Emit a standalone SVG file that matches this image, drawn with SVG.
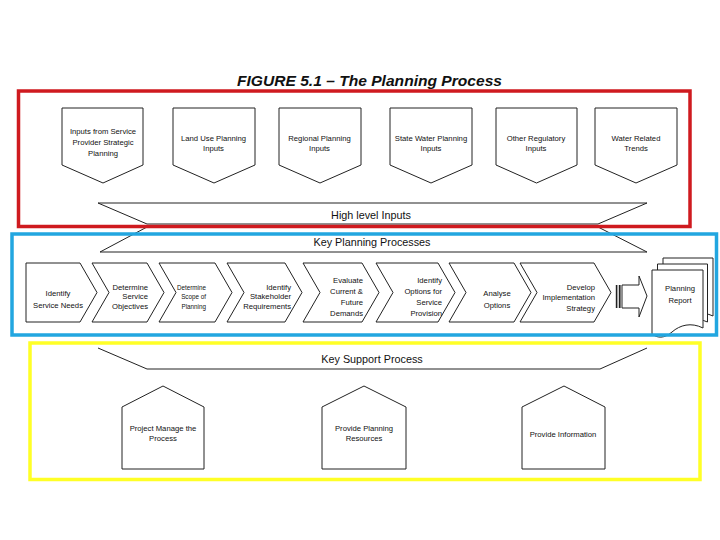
<svg xmlns="http://www.w3.org/2000/svg" width="720" height="540" viewBox="0 0 720 540">
<defs>
<style>
.sh{fill:#fff;stroke:#222;stroke-width:1;stroke-linejoin:miter}
.ln{fill:none;stroke:#222;stroke-width:1}
.t{font-family:"Liberation Sans",Arial,sans-serif;font-size:7.7px;fill:#111}
.s{font-size:6.3px}
.c{text-anchor:middle}
.e{text-anchor:end}
.b{font-family:"Liberation Sans",Arial,sans-serif;font-size:10.8px;fill:#111;text-anchor:middle}
.title{font-family:"Liberation Sans",Arial,sans-serif;font-size:15.5px;font-weight:bold;font-style:italic;fill:#111}
.frame{fill:none;stroke-width:3.5}
</style>
</defs>
<rect width="720" height="540" fill="#fff"/>
<text class="title" x="237" y="86" textLength="265" lengthAdjust="spacingAndGlyphs">FIGURE 5.1 – The Planning Process</text>

<g id="connectors">
<g id="banner-high-level">
<path class="sh" d="M98,203 H647 L598,224 H147 Z"/>
<text class="b" x="371" y="219">High level Inputs</text>
</g>
<g id="banner-key-planning">
<path class="sh" d="M147,227 H598 L647,252 H100 Z"/>
<text class="b" x="372" y="245.5">Key Planning Processes</text>
</g>
<g id="banner-key-support">
<path fill="#fff" stroke="none" d="M98,348 H647 L600,369 H147 Z"/>
<path class="ln" d="M98,348 L147,369 H600 L647,348"/>
<text class="b" x="372" y="362.5">Key Support Process</text>
</g>
<g id="arrow-to-report">
<rect x="615.8" y="285" width="1.6" height="23" fill="#222"/>
<rect x="618.8" y="285" width="1.8" height="23" fill="#222"/>
<path class="sh" d="M622,285 H639 V276 L647,296 L639,317 V308 H622 Z"/>
</g>
</g>

<g id="input-service-provider">
<path class="sh" d="M62,108 H143 V165 L103,183 L62,165 Z"/>
<text class="t c" x="103" y="133.8">Inputs from Service</text>
<text class="t c" x="103" y="144.8">Provider Strategic</text>
<text class="t c" x="103" y="155.5">Planning</text>
</g>
<g id="input-land-use">
<path class="sh" d="M173,108 H255 V165 L214,183 L173,165 Z"/>
<text class="t c" x="213.5" y="140.5">Land Use Planning</text>
<text class="t c" x="213.5" y="151">Inputs</text>
</g>
<g id="input-regional">
<path class="sh" d="M279,108 H361 V165 L320,183 L279,165 Z"/>
<text class="t c" x="319.5" y="140.5">Regional Planning</text>
<text class="t c" x="319.5" y="151">Inputs</text>
</g>
<g id="input-state-water">
<path class="sh" d="M390,108 H472 V165 L431,183 L390,165 Z"/>
<text class="t c" x="431" y="140.5">State Water Planning</text>
<text class="t c" x="431" y="151">Inputs</text>
</g>
<g id="input-other-regulatory">
<path class="sh" d="M496,108 H577 V165 L536.5,183 L496,165 Z"/>
<text class="t c" x="536" y="140.5">Other Regulatory</text>
<text class="t c" x="536" y="151">Inputs</text>
</g>
<g id="input-water-trends">
<path class="sh" d="M595,108 H677 V165 L636,183 L595,165 Z"/>
<text class="t c" x="636" y="140.5">Water Related</text>
<text class="t c" x="636" y="151">Trends</text>
</g>

<g id="step-identify-needs">
<path class="sh" d="M26,263 H80 L97,292.5 L80,322 H26 Z"/>
<text class="t c" x="58" y="296">Identify</text>
<text class="t c" x="58" y="307.5">Service Needs</text>
</g>
<g id="step-service-objectives">
<path class="sh" d="M92,263 H147 L164,292.5 L147,322 H92 L109,292.5 Z"/>
<text class="t e" x="148" y="289.5">Determine</text>
<text class="t e" x="148" y="299">Service</text>
<text class="t e" x="148" y="309">Objectives</text>
</g>
<g id="step-scope">
<path class="sh" d="M159,263 H215 L232,292.5 L215,322 H159 L176,292.5 Z"/>
<text class="t s e" x="206" y="289.5">Determine</text>
<text class="t s e" x="206" y="299">Scope of</text>
<text class="t s e" x="206" y="309">Planning</text>
</g>
<g id="step-stakeholders">
<path class="sh" d="M227,263 H285 L302,292.5 L285,322 H227 L244,292.5 Z"/>
<text class="t e" x="291" y="289.5">Identify</text>
<text class="t e" x="291" y="299">Stakeholder</text>
<text class="t e" x="291" y="309">Requirements</text>
</g>
<g id="step-evaluate-demands">
<path class="sh" d="M303,263 H362 L379,292.5 L362,322 H303 L320,292.5 Z"/>
<text class="t e" x="363" y="282.5">Evaluate</text>
<text class="t e" x="363" y="294">Current &amp;</text>
<text class="t e" x="363" y="305">Future</text>
<text class="t e" x="363" y="316">Demands</text>
</g>
<g id="step-identify-options">
<path class="sh" d="M376,263 H438 L455,292.5 L438,322 H376 L393,292.5 Z"/>
<text class="t e" x="442" y="282.5">Identify</text>
<text class="t e" x="442" y="294">Options for</text>
<text class="t e" x="442" y="305">Service</text>
<text class="t e" x="442" y="316">Provision</text>
</g>
<g id="step-analyse-options">
<path class="sh" d="M449,263 H514 L531,292.5 L514,322 H449 L466,292.5 Z"/>
<text class="t c" x="497" y="296">Analyse</text>
<text class="t c" x="497" y="307.5">Options</text>
</g>
<g id="step-implementation">
<path class="sh" d="M520,263 H594 L611,292.5 L594,322 H520 L537,292.5 Z"/>
<text class="t e" x="595" y="289.5">Develop</text>
<text class="t e" x="595" y="299.5">Implementation</text>
<text class="t e" x="595" y="310.5">Strategy</text>
</g>

<g id="planning-report">
<path class="sh" d="M663,258 H713 V316 C702,311 692,313 684,320 C676,326 669,326 663,322 Z"/>
<path class="sh" d="M657.5,264 H707.5 V322 C696,317 686,319 678,326 C670,332 663,332 657.5,328 Z"/>
<path class="sh" d="M652,270 H703 V328 C691,322 680,325 672,332 C664,339 657,338 652,334 Z"/>
<text class="t c" x="680" y="291">Planning</text>
<text class="t c" x="680" y="303">Report</text>
</g>

<g id="support-project-manage">
<path class="sh" d="M122,469 V407 L163,386 L204,407 V469 Z"/>
<text class="t c" x="163" y="430.5">Project Manage the</text>
<text class="t c" x="163" y="441">Process</text>
</g>
<g id="support-planning-resources">
<path class="sh" d="M322,469 V407 L364,386 L406,407 V469 Z"/>
<text class="t c" x="364" y="430.5">Provide Planning</text>
<text class="t c" x="364" y="441">Resources</text>
</g>
<g id="support-information">
<path class="sh" d="M522,469 V407 L564,386 L605,407 V469 Z"/>
<text class="t c" x="563" y="437">Provide Information</text>
</g>

<g id="frames">
<rect class="frame" x="18.5" y="91" width="671.5" height="135.5" stroke="#cf1a1f"/>
<rect class="frame" x="12" y="234" width="704.5" height="101" stroke="#22a6e0"/>
<rect class="frame" x="30" y="343" width="670" height="136.5" stroke="#ffff26"/>
</g>
</svg>
